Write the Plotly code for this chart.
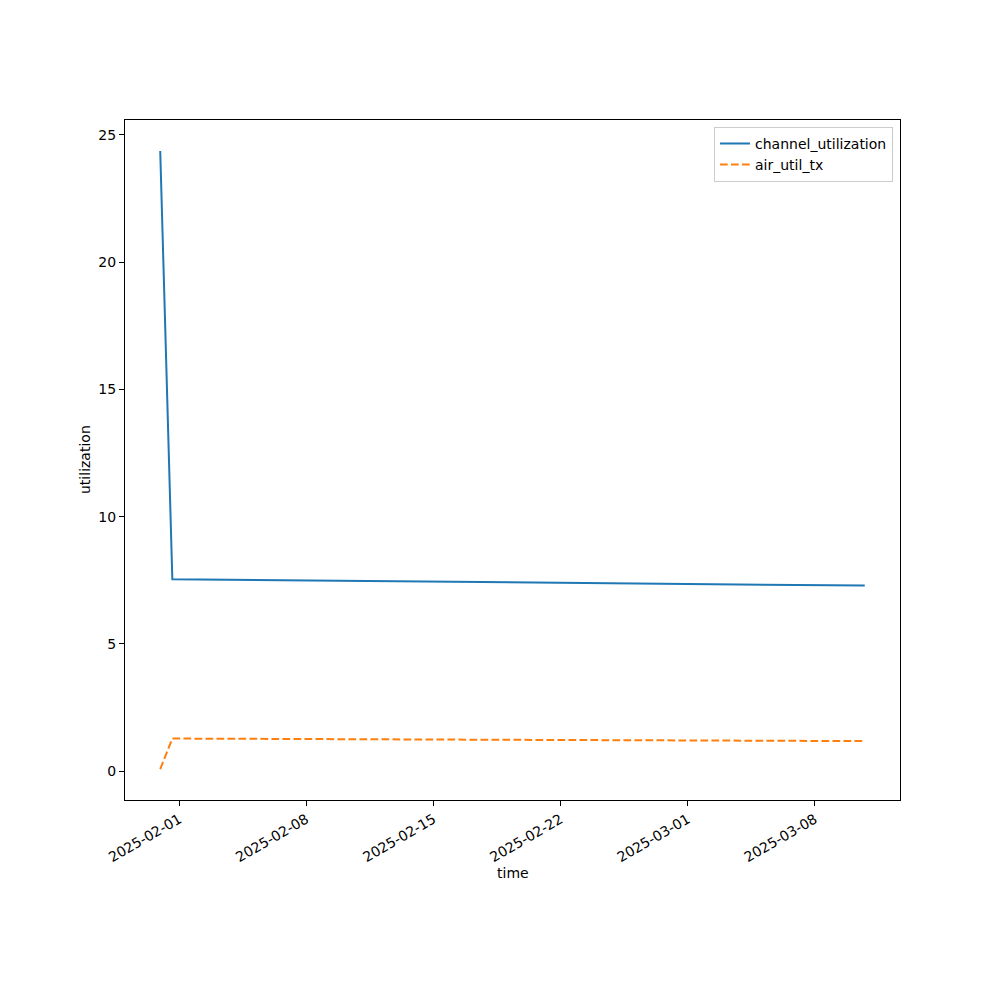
import datetime as dt
import plotly.graph_objects as go

times = ["2025-01-30 23:00", "2025-01-31 15:00", "2025-03-10 18:00"]
channel_utilization = [24.37, 7.54, 7.29]
air_util_tx = [0.08, 1.28, 1.18]
tick_dates = ["2025-02-01", "2025-02-08", "2025-02-15", "2025-02-22", "2025-03-01", "2025-03-08"]
y_ticks = [0, 5, 10, 15, 20, 25]

font = dict(family="DejaVu Sans", size=14, color="black")

tds = [dt.datetime.strptime(t, "%Y-%m-%d %H:%M") for t in times]
span = tds[-1] - tds[0]
xr = [tds[0] - span * 0.05, tds[-1] + span * 0.05]
allv = channel_utilization + air_util_tx
ys = max(allv) - min(allv)
yr = [min(allv) - 0.05 * ys, max(allv) + 0.05 * ys]

fig = go.Figure()
fig.add_trace(go.Scatter(x=tds, y=channel_utilization, mode="lines", name="channel_utilization",
                         line=dict(color="#1f77b4", width=2)))
fig.add_trace(go.Scatter(x=tds, y=air_util_tx, mode="lines", name="air_util_tx",
                         line=dict(color="#ff7f0e", width=2, dash="7.7px,3.3px")))

fig.update_layout(
    width=1000, height=1000,
    margin=dict(l=117, r=108, t=112, b=208),
    paper_bgcolor="white", plot_bgcolor="white",
    font=font,
    showlegend=True,
    legend=dict(x=0.991, y=0.99, xanchor="right", yanchor="top",
                bordercolor="#cccccc", borderwidth=1, bgcolor="rgba(255,255,255,0.8)",
                font=dict(family="DejaVu Sans", size=14), tracegroupgap=0, itemwidth=30),
    xaxis=dict(range=xr, tickvals=tick_dates, ticktext=tick_dates, tickangle=-30,
               showgrid=False, zeroline=False, showline=True, mirror=True, linecolor="black",
               linewidth=1, ticks="outside", ticklen=5, tickcolor="black", tickfont=font),
    yaxis=dict(range=yr, tickvals=y_ticks, showgrid=False, zeroline=False, showline=True,
               mirror=True, linecolor="black", linewidth=1, ticks="outside", ticklen=5,
               tickcolor="black", tickfont=font),
    annotations=[
        dict(text="time", xref="paper", yref="paper", x=0.5, y=-0.108, xanchor="center",
             yanchor="middle", showarrow=False, font=font),
        dict(text="utilization", xref="paper", yref="paper", x=-0.0516, y=0.5, xanchor="center",
             yanchor="middle", textangle=-90, showarrow=False, font=font),
    ],
)

fig.write_html("out.html")
